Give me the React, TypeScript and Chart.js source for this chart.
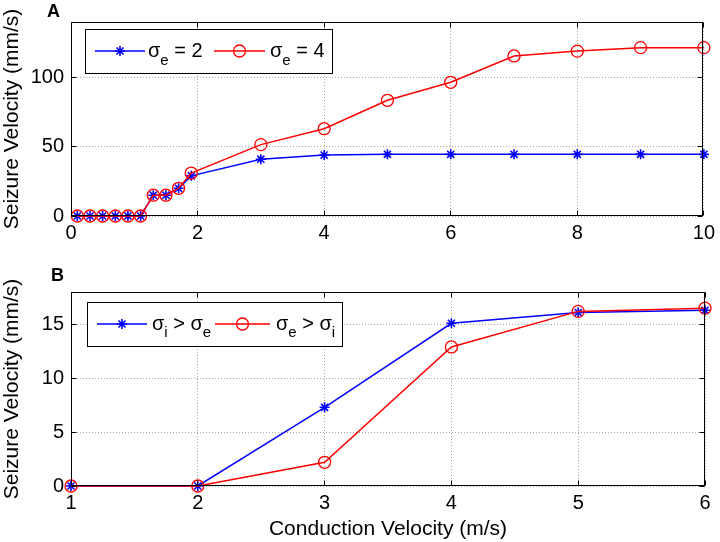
import React, { useEffect, useRef } from 'react';
import { Chart, registerables } from 'chart.js';

Chart.register(...registerables);

// ---------- Data ----------
// Panel A
const xA = [0.1, 0.3, 0.5, 0.7, 0.9, 1.1, 1.3, 1.5, 1.7, 1.9, 3, 4, 5, 6, 7, 8, 9, 10];
const seizureSigmaE2 = [0, 0, 0, 0, 0, 0, 15, 15, 20, 29, 41, 44, 44.5, 44.5, 44.5, 44.5, 44.5, 44.5];
const seizureSigmaE4 = [0, 0, 0, 0, 0, 0, 15, 15, 20, 31, 51.5, 63, 83.5, 96.5, 115.5, 119, 121.5, 121.5];
const xTicksA = [0, 2, 4, 6, 8, 10];
const yTicksA = [0, 50, 100];
const legendA = ['σ_e = 2', 'σ_e = 4'];

// Panel B
const xB = [1, 2, 3, 4, 5, 6];
const seizureIgtE = [0, 0, 7.3, 15.1, 16.1, 16.3];
const seizureEgtI = [0, 0, 2.2, 12.9, 16.2, 16.5];
const xTicksB = [1, 2, 3, 4, 5, 6];
const yTicksB = [0, 5, 10, 15];
const legendB = ['σ_i > σ_e', 'σ_e > σ_i'];

const yTitle = 'Seizure Velocity (mm/s)';
const xTitle = 'Conduction Velocity (m/s)';

// ---------- Styles ----------
const FONT = '"Liberation Sans", Arial, Helvetica, sans-serif';
const BLUE = '#0000ff';
const RED = '#ff0000';
const GRID = '#a8a8a8';

type LegendLayout = {
  box: [number, number, number, number];
  lineY: number;
  entries: { x0: number; x1: number; textX: number }[];
  subDy: number;
};

function crisp(v: number) {
  return Math.floor(v) + 0.5;
}

function drawMarker(ctx: CanvasRenderingContext2D, style: string, x: number, y: number, r: number, color: string, width: number) {
  ctx.save();
  ctx.strokeStyle = color;
  ctx.lineWidth = width;
  ctx.beginPath();
  if (style === 'star') {
    for (let k = 0; k < 4; k++) {
      const a = (k * Math.PI) / 4;
      ctx.moveTo(x - Math.cos(a) * r, y - Math.sin(a) * r);
      ctx.lineTo(x + Math.cos(a) * r, y + Math.sin(a) * r);
    }
  } else {
    ctx.arc(x, y, r, 0, Math.PI * 2);
  }
  ctx.stroke();
  ctx.restore();
}

function drawRich(ctx: CanvasRenderingContext2D, text: string, x: number, baseline: number, size: number, subSize: number, subDy: number) {
  let cx = x;
  let run = '';
  const flush = () => {
    if (!run) return;
    ctx.font = `${size}px ${FONT}`;
    ctx.fillText(run, cx, baseline);
    cx += ctx.measureText(run).width;
    run = '';
  };
  for (let i = 0; i < text.length; i++) {
    const ch = text[i];
    if (ch === '_' && i + 1 < text.length) {
      flush();
      ctx.font = `${subSize}px ${FONT}`;
      ctx.fillText(text[i + 1], cx, baseline + subDy);
      cx += ctx.measureText(text[i + 1]).width;
      i++;
    } else {
      run += ch;
    }
  }
  flush();
}

const framePlugin = {
  id: 'matlabFrame',
  afterDraw(chart: any, _args: any, opts: any) {
    const { ctx, chartArea: a } = chart;
    const xs = chart.scales.x;
    const ys = chart.scales.y;
    const L = crisp(a.left), R = crisp(a.right - 1), T = crisp(a.top), B = crisp(a.bottom - 1);
    ctx.save();
    ctx.strokeStyle = '#000';
    ctx.lineWidth = 1;
    ctx.strokeRect(L, T, R - L, B - T);
    ctx.beginPath();
    const tl = 5;
    for (const t of opts.xTicks as number[]) {
      const px = crisp(xs.getPixelForValue(t));
      ctx.moveTo(px, B); ctx.lineTo(px, B - tl);
      ctx.moveTo(px, T); ctx.lineTo(px, T + tl);
    }
    for (const t of opts.yTicks as number[]) {
      const py = crisp(ys.getPixelForValue(t));
      ctx.moveTo(L, py); ctx.lineTo(L + tl, py);
      ctx.moveTo(R, py); ctx.lineTo(R - tl, py);
    }
    ctx.stroke();

    // panel letter
    ctx.fillStyle = '#000';
    ctx.font = `bold 18px ${FONT}`;
    ctx.textBaseline = 'alphabetic';
    ctx.textAlign = 'left';
    ctx.fillText(opts.letter, opts.letterX, opts.letterY);

    // legend
    const lg: LegendLayout = opts.legendLayout;
    const [bx0, by0, bx1, by1] = lg.box;
    ctx.fillStyle = '#fff';
    ctx.fillRect(bx0, by0, bx1 - bx0, by1 - by0);
    ctx.strokeStyle = '#000';
    ctx.lineWidth = 1;
    ctx.strokeRect(crisp(bx0), crisp(by0), bx1 - bx0, by1 - by0);
    const labels: string[] = opts.legendLabels;
    lg.entries.forEach((e, i) => {
      const ds = chart.data.datasets[i];
      ctx.strokeStyle = ds.borderColor;
      ctx.lineWidth = ds.borderWidth;
      ctx.beginPath();
      ctx.moveTo(e.x0, lg.lineY);
      ctx.lineTo(e.x1, lg.lineY);
      ctx.stroke();
      drawMarker(ctx, ds.pointStyle, (e.x0 + e.x1) / 2, lg.lineY, ds.pointRadius, ds.pointBorderColor, ds.pointBorderWidth);
      ctx.fillStyle = '#000';
      drawRich(ctx, labels[i], e.textX, lg.lineY + 5.5, 20, 15, lg.subDy);
    });
    ctx.restore();
  },
};

type PanelSpec = {
  xs: number[];
  s1: number[];
  s2: number[];
  labels: string[];
  xMin: number; xMax: number;
  yMin: number; yMax: number;
  xTicks: number[]; yTicks: number[];
  showXTitle: boolean;
  padTop: number;
  xAxisHeight: number;
  letter: string; letterX: number; letterY: number;
  legendLayout: LegendLayout;
};

function buildConfig(p: PanelSpec): any {
  const tickFont = { family: FONT, size: 20 };
  const titleFont = { family: FONT, size: 21 };
  return {
    type: 'line',
    data: {
      datasets: [
        {
          label: p.labels[0],
          data: p.xs.map((x, i) => ({ x, y: p.s1[i] })),
          borderColor: BLUE,
          backgroundColor: BLUE,
          borderWidth: 1.5,
          pointStyle: 'star',
          pointRadius: 5,
          pointBorderColor: BLUE,
          pointBackgroundColor: BLUE,
          pointBorderWidth: 1.6,
          tension: 0,
          clip: false,
          order: 1,
        },
        {
          label: p.labels[1],
          data: p.xs.map((x, i) => ({ x, y: p.s2[i] })),
          borderColor: RED,
          backgroundColor: 'rgba(0,0,0,0)',
          borderWidth: 1.5,
          pointStyle: 'circle',
          pointRadius: 6,
          pointBorderColor: RED,
          pointBackgroundColor: 'rgba(0,0,0,0)',
          pointBorderWidth: 1.3,
          tension: 0,
          clip: false,
          order: 0,
        },
      ],
    },
    options: {
      responsive: false,
      animation: false,
      events: [],
      layout: { padding: { top: p.padTop, right: 15, left: 0, bottom: 0 } },
      scales: {
        x: {
          type: 'linear',
          min: p.xMin,
          max: p.xMax,
          afterBuildTicks: (s: any) => { s.ticks = p.xTicks.map((v) => ({ value: v })); },
          afterFit: (s: any) => { s.height = p.xAxisHeight; },
          grid: { color: GRID, lineWidth: 1, drawTicks: false },
          border: { display: false, dash: [1, 2] },
          ticks: { padding: 5, font: tickFont, color: '#000', maxRotation: 0, autoSkip: false },
          title: { display: p.showXTitle, text: xTitle, font: titleFont, color: '#000', padding: { top: 0, bottom: 0 } },
        },
        y: {
          type: 'linear',
          min: p.yMin,
          max: p.yMax,
          afterBuildTicks: (s: any) => { s.ticks = p.yTicks.map((v) => ({ value: v })); },
          afterFit: (s: any) => { s.width = 71; },
          grid: { color: GRID, lineWidth: 1, drawTicks: false },
          border: { display: false, dash: [1, 2] },
          ticks: { padding: 7, font: tickFont, color: '#000', autoSkip: false },
          title: { display: true, text: yTitle, font: titleFont, color: '#000', padding: { top: 0, bottom: 0 } },
        },
      },
      plugins: {
        legend: { display: false },
        tooltip: { enabled: false },
        matlabFrame: {
          xTicks: p.xTicks,
          yTicks: p.yTicks,
          letter: p.letter,
          letterX: p.letterX,
          letterY: p.letterY,
          legendLayout: p.legendLayout,
          legendLabels: p.labels,
        },
      },
    },
    plugins: [framePlugin],
  };
}

function Panel({ spec, top, height }: { spec: PanelSpec; top: number; height: number }) {
  const ref = useRef<HTMLCanvasElement | null>(null);
  useEffect(() => {
    if (!ref.current) return;
    const chart = new Chart(ref.current, buildConfig(spec));
    return () => chart.destroy();
  }, []);
  return (
    <canvas
      ref={ref}
      width={720}
      height={height}
      style={{ position: 'absolute', left: 0, top, width: 720, height, display: 'block' }}
    />
  );
}

const specA: PanelSpec = {
  xs: xA, s1: seizureSigmaE2, s2: seizureSigmaE4, labels: legendA,
  xMin: 0, xMax: 10, yMin: 0, yMax: 140,
  xTicks: xTicksA, yTicks: yTicksA,
  showXTitle: false,
  padTop: 22,
  xAxisHeight: 46,
  letter: 'A', letterX: 47, letterY: 17,
  legendLayout: {
    box: [85, 29, 332, 73],
    lineY: 51,
    entries: [
      { x0: 95, x1: 145, textX: 148 },
      { x0: 214, x1: 265, textX: 270 },
    ],
    subDy: 8,
  },
};

const specB: PanelSpec = {
  xs: xB, s1: seizureIgtE, s2: seizureEgtI, labels: legendB,
  xMin: 1, xMax: 6, yMin: 0, yMax: 18,
  xTicks: xTicksB, yTicks: yTicksB,
  showXTitle: true,
  padTop: 30,
  xAxisHeight: 56,
  letter: 'B', letterX: 51, letterY: 19,
  legendLayout: {
    box: [87, 40, 342, 84],
    lineY: 62,
    entries: [
      { x0: 97, x1: 147, textX: 152 },
      { x0: 215, x1: 270, textX: 276 },
    ],
    subDy: 7.5,
  },
};

export default function App() {
  return (
    <div style={{ position: 'absolute', left: 0, top: 0, width: 720, height: 542, background: '#fff' }}>
      <Panel spec={specA} top={0} height={262} />
      <Panel spec={specB} top={262} height={280} />
    </div>
  );
}
